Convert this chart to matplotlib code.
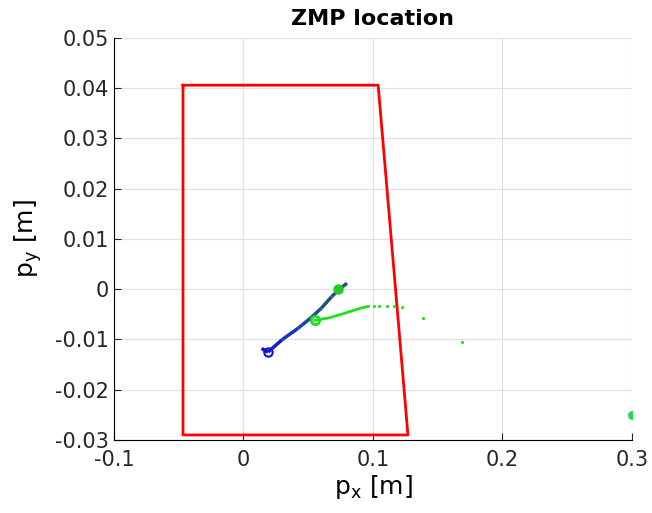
import matplotlib.pyplot as plt
import numpy as np
from matplotlib.collections import LineCollection
from matplotlib.colors import LinearSegmentedColormap

# support polygon (foot)
foot_x = [-0.0467, 0.104, 0.127, -0.0467, -0.0467]
foot_y = [0.0406, 0.0406, -0.029, -0.029, 0.0406]

# measured ZMP trajectory (blue -> dark teal)
zmp_x = [0.014, 0.019, 0.030, 0.042, 0.052, 0.060, 0.068, 0.074, 0.080]
zmp_y = [-0.0118, -0.0125, -0.0100, -0.0078, -0.0057, -0.0038, -0.0015, 0.0000, 0.0012]

# reference ZMP trajectory (green)
ref_x = [0.055, 0.066, 0.078, 0.090, 0.0965]
ref_y = [-0.0062, -0.0057, -0.0048, -0.0038, -0.0034]
ref_dots_x = [0.1005, 0.105, 0.111, 0.1165, 0.1225, 0.1386, 0.169]
ref_dots_y = [-0.0033, -0.0033, -0.0034, -0.0034, -0.0035, -0.0058, -0.0105]

plt.rcdefaults()
fig = plt.figure(figsize=(6.52, 5.13), dpi=100)
ax = fig.add_axes([0.1748, 0.1423, 0.7945, 0.7837])

ax.plot(foot_x, foot_y, color='red', lw=2)

pts = np.array([zmp_x, zmp_y]).T.reshape(-1, 1, 2)
segs = np.concatenate([pts[:-1], pts[1:]], axis=1)
cmap = LinearSegmentedColormap.from_list('bt', ['#1010d0', '#1a4fa0', '#1d5866'])
lc = LineCollection(segs, cmap=cmap, linewidths=2.5)
lc.set_array(np.linspace(0, 1, len(segs)))
ax.add_collection(lc)
ax.plot(zmp_x[1], zmp_y[1], 'o', color='#1010d0', ms=6, mfc='none', mew=1.5)

ax.plot(ref_x, ref_y, color='#22dd22', lw=2)
ax.plot(ref_dots_x, ref_dots_y, '.', color='#22dd22', ms=2.5)
ax.plot(ref_x[0], ref_y[0], 'o', color='#22dd22', ms=6, mfc='none', mew=2)
ax.plot(0.073, 0.0, 'o', color='#22cc22', ms=6, mew=1.5)
ax.plot(0.3, -0.025, 'o', color='#22dd55', ms=5, mew=1.5)

ax.set_xlim(-0.1, 0.3)
ax.set_ylim(-0.03, 0.05)
ax.set_xticks([-0.1, 0, 0.1, 0.2, 0.3])
ax.set_xticklabels(['-0.1', '0', '0.1', '0.2', '0.3'])
ax.set_yticks(np.arange(-0.03, 0.051, 0.01))
ax.set_yticklabels(['-0.03', '-0.02', '-0.01', '0', '0.01', '0.02', '0.03', '0.04', '0.05'])
ax.grid(True, color='#e0e0e0', lw=0.9)
ax.set_axisbelow(True)
for s in ['top', 'right']:
    ax.spines[s].set_visible(False)
ax.tick_params(direction='in', labelsize=15, length=5, colors='#262626')
ax.tick_params(axis='x', pad=7)

ax.set_xlabel(r'p$_{\mathregular{x}}$ [m]', fontsize=18, labelpad=2)
ax.set_ylabel(r'p$_{\mathregular{y}}$ [m]', fontsize=18, labelpad=8)
ax.set_title('ZMP location', fontsize=16, fontweight='bold', pad=9)

plt.savefig('out.png')
